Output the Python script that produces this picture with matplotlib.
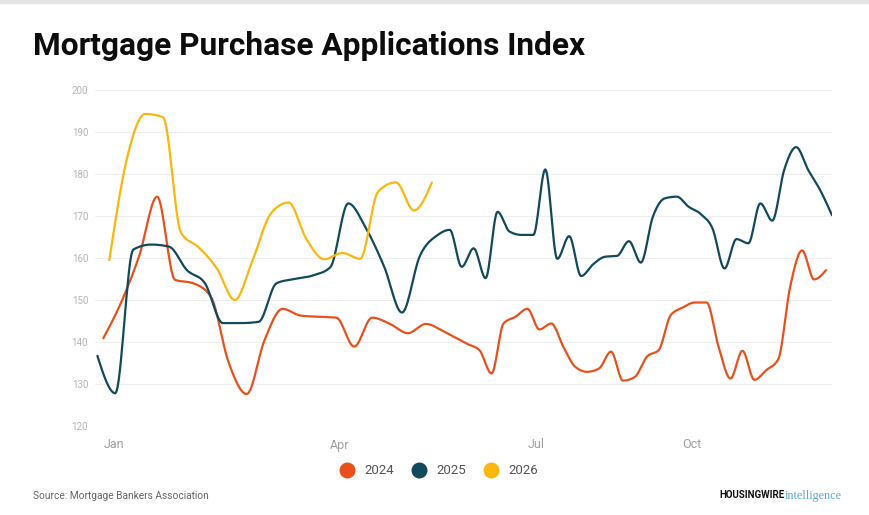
import numpy as np
import pandas as pd
import matplotlib
matplotlib.use("Agg")
import matplotlib.pyplot as plt
from matplotlib.lines import Line2D
from matplotlib.patches import Rectangle

# weekly index values (Wednesday release dates)
dates_2024 = pd.date_range("2024-01-03", periods=52, freq="7D")
dates_2025 = pd.date_range("2025-01-01", periods=53, freq="7D")
dates_2026 = pd.date_range("2026-01-07", periods=19, freq="7D")

values_2024 = [140.9, 149.5, 160.5, 174.6, 154.8, 154.0, 150.8, 135.0, 127.6, 140.5,
               147.9, 146.3, 146.0, 145.8, 138.9, 145.8, 144.3, 142.1, 144.3, 142.5,
               141.0, 139.5, 138.0, 132.5, 144.4, 146.0, 147.9, 143.0, 144.4, 138.9,
               134.1, 132.9, 133.7, 137.7, 130.8, 131.7, 136.5, 138.1, 146.4, 148.2,
               149.4, 149.4, 138.9, 131.3, 137.9, 131.0, 133.3, 135.9, 153.2, 161.8,
               154.9, 157.1]
values_2025 = [136.7, 127.8, 162.0, 163.2, 162.7, 157.1, 154.0, 144.5, 144.5, 144.8,
               154.0, 155.0, 155.8, 157.8, 173.0, 167.0, 158.0, 147.0, 160.5, 165.5,
               166.7, 157.9, 162.3, 155.2, 171.0, 166.3, 165.5, 165.5, 181.1, 159.8,
               165.2, 155.7, 158.5, 160.3, 160.5, 164.0, 158.9, 169.8, 174.2, 174.6,
               172.2, 170.5, 167.0, 157.5, 164.5, 163.5, 173.0, 168.9, 181.0, 186.4,
               181.0, 176.2, 170.2]
values_2026 = [159.5, 184.0, 194.3, 193.5, 166.0, 162.5, 157.5, 150.0, 159.5, 170.5,
               173.2, 164.5, 159.7, 161.2, 159.8, 175.8, 178.0, 171.3, 178.0]

series = [
    ("2024", dates_2024, values_2024, "#e8501c"),
    ("2025", dates_2025, values_2025, "#134a5b"),
    ("2026", dates_2026, values_2026, "#fbb60f"),
]

month_ticks = ["01", "04", "07", "10"]
month_labels = ["Jan", "Apr", "Jul", "Oct"]

# the x axis is categorical: union of month-day of all years
cats = sorted(set(d.strftime("%m-%d") for _, ds, _, _ in series for d in ds))
pos = {c: i for i, c in enumerate(cats)}


def monotone_curve(x, y, n=16):
    # monotone cubic (like d3 curveMonotoneX)
    x = np.asarray(x, float)
    y = np.asarray(y, float)
    h = np.diff(x)
    s = np.diff(y) / h
    t = np.zeros(len(y))
    for i in range(1, len(y) - 1):
        p = (s[i - 1] * h[i] + s[i] * h[i - 1]) / (h[i - 1] + h[i])
        t[i] = (np.sign(s[i - 1]) + np.sign(s[i])) * min(abs(s[i - 1]), abs(s[i]), 0.5 * abs(p))
    t[0] = (3 * s[0] - t[1]) / 2
    t[-1] = (3 * s[-1] - t[-2]) / 2
    xs, ys = [], []
    for i in range(len(h)):
        u = np.linspace(0, 1, n, endpoint=False)
        h00 = 2 * u**3 - 3 * u**2 + 1
        h10 = u**3 - 2 * u**2 + u
        h01 = -2 * u**3 + 3 * u**2
        h11 = u**3 - u**2
        xs.append(x[i] + u * h[i])
        ys.append(h00 * y[i] + h10 * h[i] * t[i] + h01 * y[i + 1] + h11 * h[i] * t[i + 1])
    xs.append([x[-1]])
    ys.append([y[-1]])
    return np.concatenate(xs), np.concatenate(ys)


fig = plt.figure(figsize=(8.69, 5.15), dpi=100)
fig.patches.append(Rectangle((0, 1 - 3 / 515), 1, 3 / 515, transform=fig.transFigure,
                             color="#e4e4e4", zorder=0))
ax = fig.add_axes([95 / 869, 1 - 426 / 515, 737 / 869, 336 / 515])

for name, ds, vals, col in series:
    xi = [pos[d.strftime("%m-%d")] for d in ds]
    cx, cy = monotone_curve(xi, vals)
    ax.plot(cx, cy, color=col, lw=1.6, solid_capstyle="round", zorder=3)

ax.set_xlim(-0.4, len(cats) - 1)
ax.set_ylim(120, 200)
ax.set_yticks(range(120, 201, 10))
ax.grid(axis="y", color="#efefef", lw=0.8)
ax.set_axisbelow(True)
for sp in ax.spines.values():
    sp.set_visible(False)

# month labels sit just right of the first category of each month
tick_pos = [min(i for c, i in pos.items() if c.startswith(m)) for m in month_ticks]
ax.set_xticks(tick_pos)
ax.set_xticklabels([])
ax.tick_params(axis="x", length=0)
for p, lab in zip(tick_pos, month_labels):
    ax.annotate(lab, xy=(p, 0), xycoords=("data", "axes fraction"), xytext=(6, -19),
                textcoords="offset pixels", ha="left", va="center", fontsize=9,
                color="#a0a0a0", family="Roboto", annotation_clip=False)
ax.tick_params(axis="y", length=0, pad=5, labelsize=7, labelcolor="#b5b5b5")
for lab in ax.get_yticklabels():
    lab.set_family("Roboto")

fig.text(33 / 869, 1 - 46 / 515, "Mortgage Purchase Applications Index", fontsize=22.8,
         fontweight="bold", family="Roboto", color="#0d0d0d", va="center", ha="left")

handles = [Line2D([], [], marker="o", ls="none", markersize=10.5, color=c) for _, _, _, c in series]
fig.legend(handles, [s[0] for s in series], loc="center", bbox_to_anchor=(0.502, 1 - 471 / 515),
           ncol=3, frameon=False, handletextpad=0.3, columnspacing=0.9,
           prop={"family": "Roboto", "size": 9.5}, labelcolor="#555555")

fig.text(33 / 869, 1 - 496 / 515, "Source: Mortgage Bankers Association", fontsize=7.3,
         color="#666666", family="Roboto", va="center", ha="left")
fig.text(785 / 869, 1 - 495.5 / 515, "HOUSINGWIRE", fontsize=7, fontweight="bold",
         color="#111111", family="Roboto", va="center", ha="right")
fig.text(785 / 869, 1 - 495.5 / 515, "intelligence", fontsize=8.7, color="#5aa9d6",
         family="Liberation Serif", va="center", ha="left")

fig.savefig("out.png", dpi=100)
